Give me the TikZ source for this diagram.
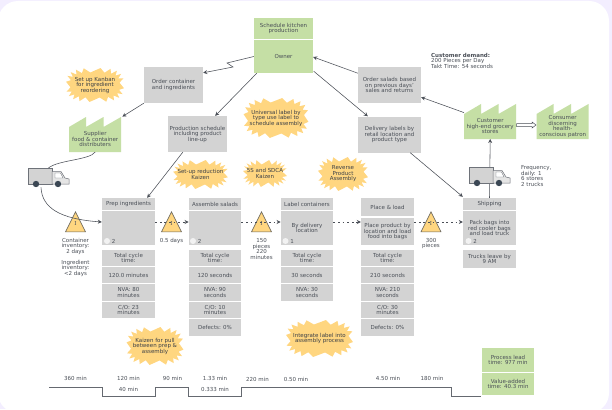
\documentclass[tikz,border=0pt]{standalone}
\usepackage{fontspec}
\setmainfont{DejaVu Sans}
\newfontfamily\invfont{DejaVu Serif}
\usetikzlibrary{shapes.geometric, arrows.meta, calc}
\definecolor{vsmgreen}{HTML}{C5DFA5}
\definecolor{vsmgrey}{HTML}{D3D3D3}
\definecolor{vsmyellow}{HTML}{FFD680}
\definecolor{vsmink}{HTML}{4A4F57}
\definecolor{vsmdark}{HTML}{3B4754}
\definecolor{vsmlilac}{HTML}{F3EEFF}
\tikzset{
  txt/.style={font=\fontsize{5.5}{5.5}\selectfont, text=vsmink, align=center, inner sep=0pt},
  vbox/.style={txt, minimum width=#1, inner sep=0pt},
  stepbox/.style={vbox=#1, fill=vsmgrey},
  greenbox/.style={vbox=#1, fill=vsmgreen},
  tri/.style={txt, isosceles triangle, isosceles triangle stretches, shape border rotate=90, minimum width=20pt, minimum height=20pt, fill=vsmyellow, draw=vsmink!80!vsmyellow, line width=0.6pt},
  arr/.style={-{Stealth[length=4pt,width=4pt]}, draw=vsmink, line width=0.55pt},
  push/.style={arr, dashed, dash pattern=on 1.8pt off 2.8pt, line width=0.75pt},
}
% name, centre, half width and height, text
\newcommand{\burst}[6]{
  \fill[vsmyellow] plot[samples at={0,...,39}, variable=\k] ({#2+(#4-4.5*mod(\k,2))*cos(\k*9+4.5)*abs(cos(\k*9+4.5))^(-0.35)},{#3+(#5-4.5*mod(\k,2))*sin(\k*9+4.5)*abs(sin(\k*9+4.5))^(-0.35)}) -- cycle;
  \node[txt, text=vsmink!80!black] (#1) at (#2,#3) {#6};
}
% left and bottom of the plant, then the name
\newcommand{\factory}[4]{
  \fill[vsmgreen] (#2,#3) -- ++(0,-25) -- ++(17,-10) -- ++(0,10) -- ++(17.5,-10) -- ++(0,10) -- ++(17.5,-10) -- ++(0,35) -- cycle;
  \node[txt, minimum width=52pt, minimum height=25pt, anchor=south west] (#1) at (#2,#3) {#4};
}
% left and top of the truck
\newcommand{\truck}[3]{
  \node[minimum width=41pt, minimum height=19pt, inner sep=0pt, anchor=north west] (#1) at (#2,#3) {};
  \begin{scope}[shift={(#2,#3)}]
    \filldraw[fill=vsmgrey, draw=vsmink!80, line width=0.5pt] (0,0) rectangle (24,16);
    \filldraw[fill=vsmgrey!60, draw=vsmink!80, line width=0.5pt] (24,3.5) -- (33,3.5) -- (37,10) -- (41,11) -- (41,16) -- (24,16) -- cycle;
    \filldraw[fill=white, draw=vsmink!80, line width=0.4pt] (27,5) -- (32.5,5) -- (35,10) -- (27,10) -- cycle;
    \fill[vsmdark] (8,16) circle (3.2) (30,16) circle (3.2);
  \end{scope}
}
% operator mark
\newcommand{\operator}[3]{
  \fill[white!70!vsmgrey] (#1,241) circle (3);
  \node[txt] (#2) at (#1+6.5,241.3) {#3};
}
\begin{document}
\begin{tikzpicture}[x=1pt, y=-1pt]
  \useasboundingbox (0,0) rectangle (612,409);
  \fill[vsmlilac] (0,0) rectangle (612,409);
  \fill[white, rounded corners=20pt] (-2,1) rectangle (609,413);

  % information flow
  \node[greenbox=59pt, minimum height=21pt] (kitchen) at (283.5,28.5) {Schedule kitchen\\production};
  \node[greenbox=59pt, minimum height=33pt] (owner) at (283.5,56.5) {Owner};
  \node[stepbox=59pt, minimum height=36pt] (order) at (173.5,85) {Order container\\and ingredients};
  \node[stepbox=59pt, minimum height=36pt] (prodsched) at (197.5,134) {Production schedule\\including product\\line-up};
  \node[stepbox=63pt, minimum height=36pt] (salads) at (389.5,85) {Order salads based\\on previous days'\\sales and returns};
  \node[stepbox=63pt, minimum height=36pt] (delivery) at (389.5,134.5) {Delivery labels by\\retail location and\\product type};

  \burst{kanban}{95}{85}{29}{17}{Set up Kanban\\for ingredient\\reordering}
  \burst{universal}{276}{118}{32.5}{20}{Universal label by\\type use label to\\schedule assembly}
  \burst{setup}{200.5}{174.5}{27.5}{14.5}{Set-up reduction\\Kaizen}
  \burst{sdca}{265}{173.5}{22}{13.5}{5S and SDCA\\Kaizen}
  \burst{reverse}{343}{174}{25}{17}{Reverse\\Product\\Assembly}
  \burst{pullkaizen}{155}{346}{28.5}{19}{Kaizen for pull\\between prep \&\\assembly}
  \burst{integrate}{319.5}{338.5}{33.5}{18.5}{Integrate label into\\assembly process}

  \factory{supplier}{69}{152}{Supplier\\food \& container\\distributers}
  \factory{customer}{464}{139}{Customer\\high-end grocery\\stores}
  \factory{consumer}{536.5}{139}{Consumer\\discerning\\health-\\conscious patron}

  \node[txt, anchor=west, align=left] (demand) at (431,60.5) {\textbf{Customer demand:}\\200 Pieces per Day\\Takt Time: 54 seconds};
  \node[txt, anchor=west, align=left] (frequency) at (521,176) {Frequency,\\daily: 1\\6 stores\\2 trucks};

  % process boxes
  \foreach \name/\xc/\bw/\title/\lbl in {prep/128.5/53/Prep ingredients/, assemble/215/52.5/Assemble salads/, labels/307/52.5/Label containers/By delivery\\location, shipping/489.5/53/Shipping/Pack bags into\\red cooler bags\\and load truck}{
    \node[stepbox=\bw pt, minimum height=12pt] (\name head) at (\xc,204) {\title};
    \node[stepbox=\bw pt, minimum height=34pt] (\name) at (\xc,228) {\lbl};
  }
  \node[stepbox=53pt, minimum height=18pt] (placehead) at (387.5,207) {Place \& load};
  \node[stepbox=53pt, minimum height=27pt] (place) at (387.5,231.5) {Place product by\\location and load\\food into bags};

  % metrics
  \foreach \col/\xc/\bw/\ta/\tb in {prep/128.5/53/120.0 minutes/NVA: 80\\minutes, assemble/215/52.5/120 seconds/NVA: 90\\seconds, labels/307/52.5/30 seconds/NVA: 30\\seconds, place/387.5/53/210 seconds/NVA: 210\\seconds}{
    \node[stepbox=\bw pt, minimum height=16pt] (\col m1) at (\xc,258) {Total cycle\\time:};
    \node[stepbox=\bw pt, minimum height=16pt] (\col m2) at (\xc,275) {\ta};
    \node[stepbox=\bw pt, minimum height=16.5pt] (\col m3) at (\xc,292.5) {\tb};
  }
  \foreach \col/\xc/\bw/\tc in {prep/128.5/53/{C/O: 23\\minutes}, assemble/215/52.5/{C/O: 10\\minutes}, place/387.5/53/{C/O: 30\\minutes}}{
    \node[stepbox=\bw pt, minimum height=16.5pt] (\col m4) at (\xc,310) {\tc};
  }
  \foreach \col/\xc/\bw in {assemble/215/52.5, place/387.5/53}{
    \node[stepbox=\bw pt, minimum height=16.5pt] (\col m5) at (\xc,327.5) {Defects: 0\%};
  }
  \node[stepbox=53pt, minimum height=17.5pt] (trucks) at (489.5,259) {Trucks leave by\\9 AM};

  \operator{107}{prepop}{2}
  \operator{193}{assembleop}{2}
  \operator{285.5}{labelsop}{1}
  \operator{468.5}{shippingop}{2}

  \foreach \name/\xc in {invone/75.5, invtwo/171.5, invthree/261.5, invfour/431}{
    \node[tri] (\name) at (\xc,225) {\raisebox{3pt}{\invfont I}};
  }

  % connectors
  \draw[arr] (shippinghead.north) -- (customer.south);
  \truck{truckin}{28}{168}
  \truck{truckout}{469}{167}
  \draw[arr] (owner.west) -- (227,63) -- (233,67) -- ([yshift=-6pt]order.north east);
  \draw[arr] ([xshift=3pt]owner.south west) -- ([xshift=-12pt]prodsched.north east);
  \draw[arr] (order.south west) -- ([yshift=10pt, xshift=1pt]supplier.north east);
  \draw[arr] ([xshift=15pt]prodsched.south west) -- ([xshift=-8pt]prephead.north east);
  \draw[arr] ([yshift=30pt]salads.south west) -- ([yshift=-0.5pt]owner.east);
  \draw[arr] ([yshift=2pt, xshift=0.5pt]owner.south east) -- ([xshift=10pt]delivery.north west);
  \draw[arr] ([yshift=1pt]customer.north west) -- ([yshift=6pt]salads.south east);
  \draw[arr] ([xshift=-11pt]delivery.south east) -- ([yshift=1pt]shippinghead.north west);
  \draw[draw=vsmink, fill=white, line width=0.5pt] (516.5,123.5) -- (532,123.5) -- (532,122) -- (536,125) -- (532,128) -- (532,126.5) -- (516.5,126.5) -- cycle;
  \draw[draw=vsmink, line width=0.55pt] (supplier.south) .. controls (90,160) and (58,160) .. ([xshift=-21pt]truckin.north east);
  \draw[arr] ([xshift=13pt]truckin.south west) .. controls (42,208) and (60,219) .. ([yshift=6pt]prep.west);
  \draw[push] ([yshift=6pt]prep.east) -- ([yshift=6pt]assemble.west);
  \draw[push] ([yshift=6pt]assemble.east) -- ([yshift=6pt]labels.west);
  \draw[push] ([yshift=6pt]labels.east) -- ([yshift=9.5pt]place.west);
  \draw[push] ([yshift=9.5pt]place.east) -- ([yshift=6pt]shipping.west);

  \node[txt] (invonetxt) at (75.5,246) {Container\\inventory:\\2 days};
  \node[txt] (invonetxtb) at (75.5,268) {Ingredient\\inventory:\\<2 days};
  \node[txt] (invtwotxt) at (171.5,240.5) {0.5 days};
  \node[txt] (invthreetxt) at (261.5,249) {150\\pieces\\220\\minutes};
  \node[txt] (invfourtxt) at (431,243.5) {300\\pieces};

  % timeline
  \coordinate (linestart) at (49,387);
  \coordinate (lineend) at (481,396);
  \draw[draw=vsmink!85, line width=0.6pt] (linestart) -| (102,396) -| (155,387) -| (188,396) -| (241,387) -| (451,396) -- (lineend);
  \foreach \x/\y/\t in {75.5/378/360 min, 128.5/378.5/120 min, 172.5/378/90 min, 215/378.5/1.33 min, 257.5/379/220 min, 296/379/0.50 min, 388/378.5/4.50 min, 432/378/180 min, 128.5/389.5/40 min, 215/389.5/0.333 min}{
    \node[txt] at (\x,\y) {\t};
  }
  \node[greenbox=52pt, minimum height=23.5pt] (leadtime) at (508,360) {Process lead\\time: 977 min};
  \node[greenbox=52pt, minimum height=22.5pt] (vatime) at (508,384) {Value-added\\time: 40.3 min};
\end{tikzpicture}
\end{document}
